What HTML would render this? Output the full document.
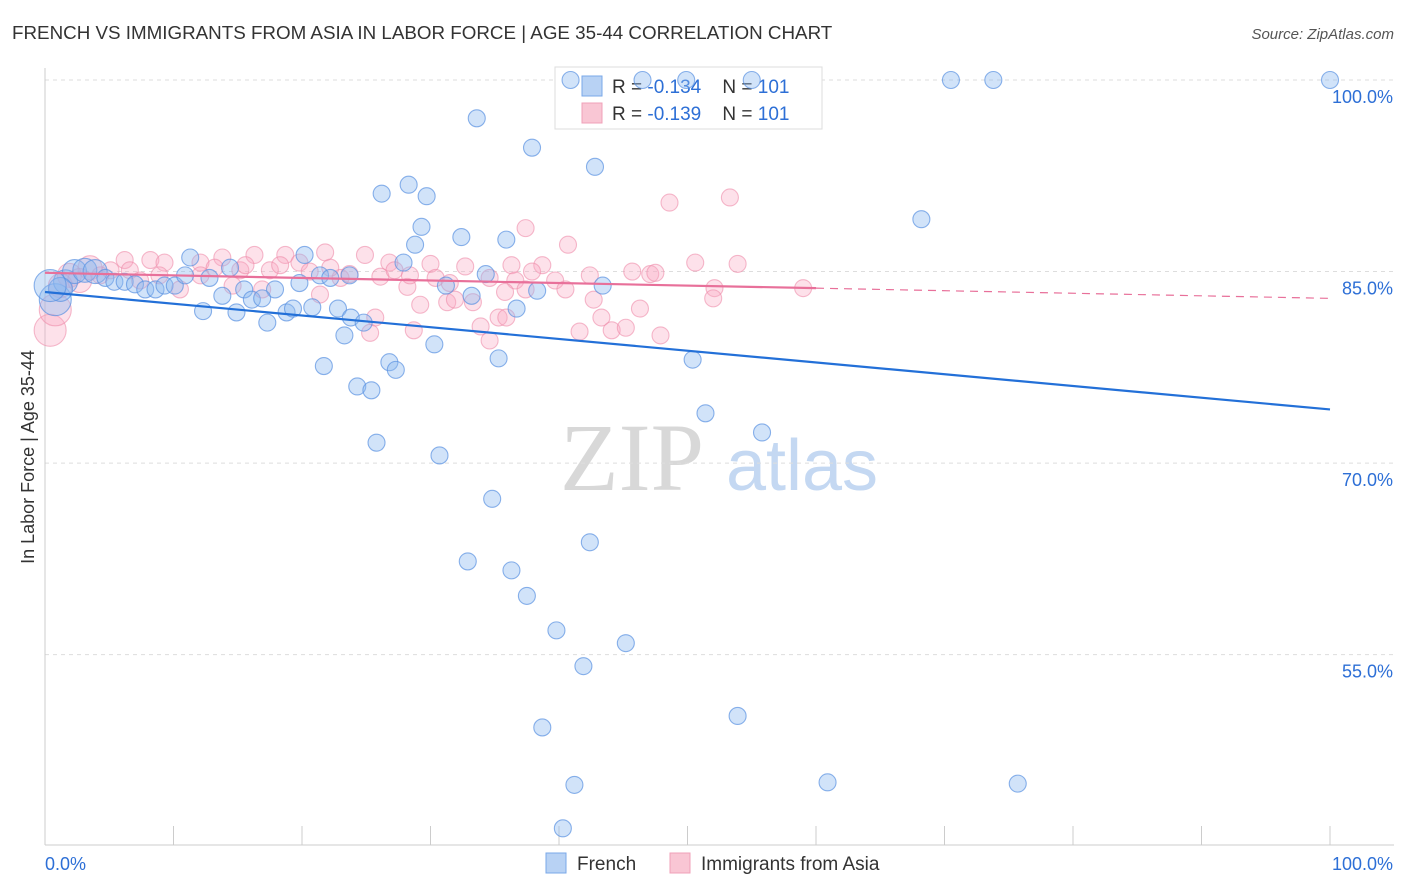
<!DOCTYPE html>
<html><head><meta charset="utf-8">
<style>
body{margin:0;background:#fff;font-family:"Liberation Sans",sans-serif;}
svg{display:block}
</style></head>
<body>
<svg id="chart" width="1406" height="892" xmlns="http://www.w3.org/2000/svg">
<text x="12" y="39" font-size="18.8" fill="#333">FRENCH VS IMMIGRANTS FROM ASIA IN LABOR FORCE | AGE 35-44 CORRELATION CHART</text>
<text x="1394" y="39" font-size="15" fill="#555" font-style="italic" text-anchor="end">Source: ZipAtlas.com</text>
<text transform="translate(34,457) rotate(-90)" font-size="18" fill="#333" text-anchor="middle">In Labor Force | Age 35-44</text>
<g>
<text x="632" y="490" font-size="96" font-family="Liberation Serif,serif" fill="#d8d8d8" text-anchor="middle">ZIP</text>
<text x="802" y="490" font-size="72" fill="#c4d8f2" text-anchor="middle">atlas</text>
</g>
<g id="grid"></g><g id="axes"></g>
<g>
<rect x="555" y="67" width="267" height="62" fill="#fff" stroke="#ddd"/>
<rect x="582" y="76" width="20" height="20" fill="#b8d2f4" stroke="#7aa8e8"/>
<rect x="582" y="103" width="20" height="20" fill="#f9c6d4" stroke="#f0a0b8"/>
<text x="612" y="93" font-size="19" fill="#333" xml:space="preserve">R = <tspan fill="#2d6fd6">-0.134</tspan>    N = <tspan fill="#2d6fd6">101</tspan></text>
<text x="612" y="120" font-size="19" fill="#333" xml:space="preserve">R = <tspan fill="#2d6fd6">-0.139</tspan>    N = <tspan fill="#2d6fd6">101</tspan></text>
</g>
<g id="pts"></g><g id="trends"></g>
<g>
<rect x="546" y="853" width="20" height="20" fill="#b8d2f4" stroke="#7aa8e8"/>
<text x="577" y="870" font-size="19" fill="#333">French</text>
<rect x="670" y="853" width="20" height="20" fill="#f9c6d4" stroke="#f0a0b8"/>
<text x="701" y="870" font-size="19" fill="#333">Immigrants from Asia</text>
</g>
</svg>
<script>
const blueX=[40.9,46.5,49.9,55.0,70.5,73.8,100,33.6,37.9,42.8,26.2,28.3,29.7,29.3,68.2,32.4,35.9,28.8,20.2,11.3,27.9,34.3,19.8,21.4,22.2,23.7,31.2,38.3,43.4,33.2,36.7,13.8,15.5,16.1,17.9,16.9,18.8,19.3,12.3,14.9,17.3,20.8,22.8,23.8,24.8,23.3,30.3,35.3,50.4,21.7,26.8,27.3,24.3,25.4,51.4,55.8,25.8,30.7,34.8,42.4,32.9,36.3,37.5,39.8,45.2,41.9,53.9,38.7,41.2,60.9,75.7,40.3,0.8,1.6,2.3,3.1,3.9,4.7,5.4,6.2,7.0,7.8,8.6,9.3,10.1,10.9,12.8,14.4,1.2,0.4];
const blueY=[100,100,100,100,100,100,100,97.0,94.7,93.2,91.1,91.8,90.9,88.5,89.1,87.7,87.5,87.1,86.3,86.1,85.7,84.8,84.1,84.7,84.5,84.7,83.9,83.5,83.9,83.1,82.1,83.1,83.6,82.8,83.6,82.9,81.8,82.1,81.9,81.8,81.0,82.2,82.1,81.4,81.0,80.0,79.3,78.2,78.1,77.6,77.9,77.3,76.0,75.7,73.9,72.4,71.6,70.6,67.2,63.8,62.3,61.6,59.6,56.9,55.9,54.1,50.2,49.3,44.8,45.0,44.9,41.4,82.8,84.2,85.0,85.1,85.0,84.5,84.2,84.2,84.0,83.6,83.6,83.9,83.9,84.7,84.5,85.3,83.6,83.9];
const pinkX=[53.3,48.6,37.4,40.7,21.8,24.9,16.3,13.8,50.6,53.9,8.2,6.2,9.3,12.1,18.7,19.8,26.8,30.0,32.7,36.3,38.7,42.4,45.7,47.1,47.5,52.1,52.0,59.0,15.2,17.5,20.6,23.0,23.7,26.1,28.2,30.4,31.5,34.6,36.6,37.9,39.7,40.5,42.7,46.3,43.3,44.1,45.2,41.6,47.9,29.2,31.3,31.9,33.3,35.3,35.9,33.9,34.6,25.3,25.7,28.7,21.4,16.9,14.6,10.5,5.1,3.5,1.9,1.2,0.4,0.8,2.7,4.3,6.6,7.4,8.9,12.1,13.2,15.6,18.3,22.2,27.2,28.4,37.4,35.8];
const pinkY=[90.8,90.4,88.4,87.1,86.5,86.3,86.3,86.1,85.7,85.6,85.9,85.9,85.7,85.7,86.3,85.7,85.7,85.6,85.4,85.5,85.5,84.7,85.0,84.8,84.9,83.7,82.9,83.7,85.1,85.1,85.0,84.5,84.8,84.6,83.8,84.5,84.1,84.5,84.3,85.0,84.3,83.6,82.8,82.1,81.4,80.4,80.6,80.3,80.0,82.4,82.6,82.8,82.6,81.4,81.4,80.7,79.6,80.2,81.4,80.4,83.2,83.6,83.9,83.6,85.1,85.3,84.7,83.9,80.4,82.0,84.3,84.7,85.1,84.3,84.7,84.7,85.3,85.5,85.5,85.3,85.1,84.7,83.6,83.4];
const yTicks=[100,85,70,55];
const yTickLabels=["100.0%","85.0%","70.0%","55.0%"];
const xTickLabels=["0.0%","100.0%"];
const blueTrend=[83.4,74.2];
const pinkTrend=[84.9,82.9];
const NS="http://www.w3.org/2000/svg";
const xs=v=>45+v*12.85, ys=v=>80+(100-v)*12.77;
function mk(tag,attrs,parent){const e=document.createElementNS(NS,tag);for(const k in attrs)e.setAttribute(k,attrs[k]);parent.appendChild(e);return e;}
const grid=document.getElementById('grid'),axes=document.getElementById('axes'),pts=document.getElementById('pts'),tr=document.getElementById('trends');
yTicks.forEach((t,i)=>{
 const l=mk('line',{x1:45,x2:1394,y1:ys(t),y2:ys(t),stroke:'#ddd','stroke-dasharray':'4,4'},grid);
 
 
 const tx=mk('text',{x:1393,y:ys(t)+23,'font-size':18,fill:'#2d6fd6','text-anchor':'end'},axes);
 tx.textContent=yTickLabels[i];
 
 
});
const ax=mk('line',{x1:45,x2:45,y1:68,y2:845,stroke:'#ccc'},axes);


const bx=mk('line',{x1:45,x2:1394,y1:845,y2:845,stroke:'#ccc'},axes);


for(let i=0;i<=10;i++){const t=mk('line',{x1:xs(i*10),x2:xs(i*10),y1:826,y2:845,stroke:'#ccc'},axes);
 
 }
const x0=mk('text',{x:45,y:870,'font-size':18,fill:'#2d6fd6'},axes);x0.textContent=xTickLabels[0];


const x1=mk('text',{x:1393,y:870,'font-size':18,fill:'#2d6fd6','text-anchor':'end'},axes);x1.textContent=xTickLabels[1];


function rad(x){return x<1?16:(x<4?12:8.5);}
pinkX.forEach((x,i)=>{const c=mk('circle',{cx:xs(x),cy:ys(pinkY[i]),r:rad(x),fill:'rgba(248,170,195,0.35)',stroke:'rgba(238,140,170,0.6)','stroke-width':1.1},pts);
 
 });
blueX.forEach((x,i)=>{const c=mk('circle',{cx:xs(x),cy:ys(blueY[i]),r:rad(x),fill:'rgba(140,185,240,0.4)',stroke:'rgba(90,145,225,0.7)','stroke-width':1.1},pts);
 
 });
const bl=mk('line',{x1:xs(0),y1:ys(blueTrend[0]),x2:xs(100),y2:ys(blueTrend[1]),stroke:'#2370d8','stroke-width':2.2},tr);


const pAt=v=>pinkTrend[0]+(pinkTrend[1]-pinkTrend[0])*v/100;
const pl=mk('line',{x1:xs(0),y1:ys(pAt(0)),x2:xs(60),y2:ys(pAt(60)),stroke:'#e8709a','stroke-width':2.2},tr);


const pd=mk('line',{x1:xs(60),y1:ys(pAt(60)),x2:xs(100),y2:ys(pAt(100)),stroke:'#e8709a','stroke-width':1.2,'stroke-dasharray':'8,6'},tr);


</script>
</body></html>
